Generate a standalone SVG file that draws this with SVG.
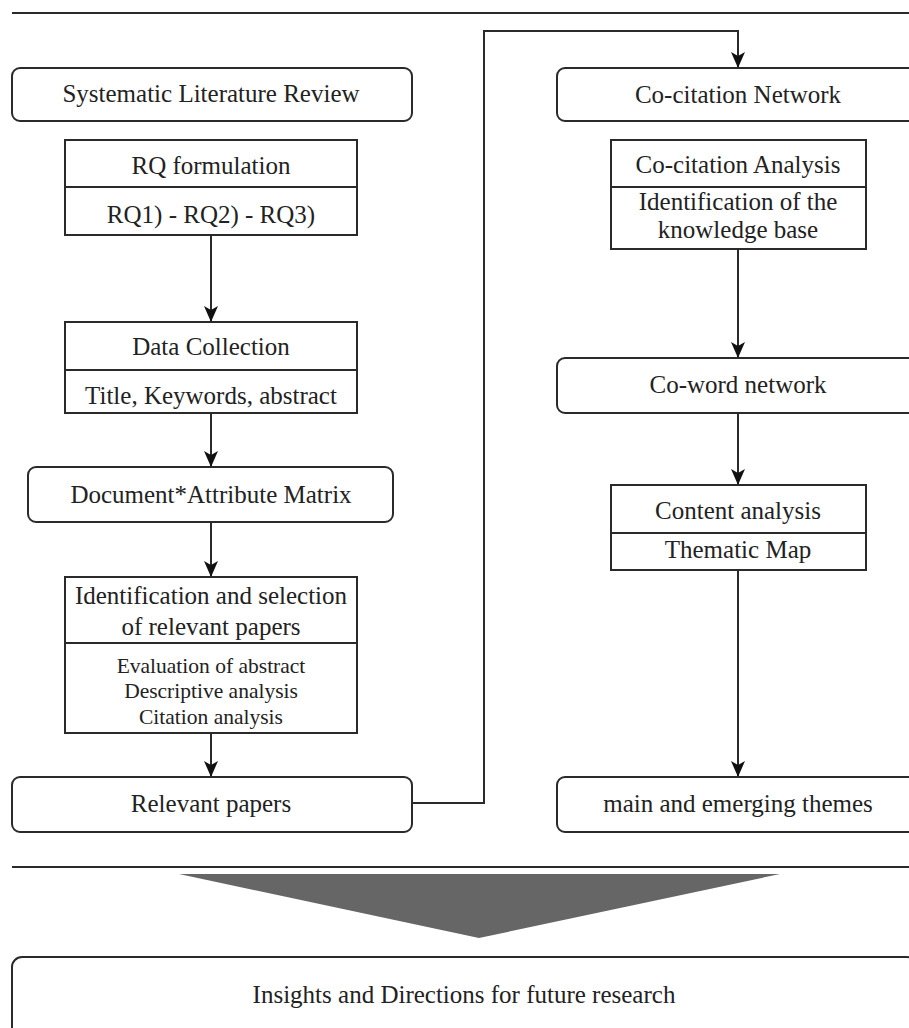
<svg xmlns="http://www.w3.org/2000/svg" width="909" height="1028" viewBox="0 0 909 1028">
<style>
.box{fill:#fff;stroke:#2a2a2a;stroke-width:2}
.ln{fill:none;stroke:#2a2a2a;stroke-width:2}
.t{font-family:"Liberation Serif","Times New Roman",serif;font-size:25px;fill:#222;text-anchor:middle}
.s{font-family:"Liberation Serif","Times New Roman",serif;font-size:21.5px;fill:#222;text-anchor:middle}
</style>
<defs>
<marker id="arr" viewBox="0 0 16 14" refX="16" refY="7" markerWidth="16" markerHeight="14" markerUnits="userSpaceOnUse" orient="auto">
<path d="M0,0 L16,7 L0,14 L4,7 Z" fill="#111"/>
</marker>
</defs>
<rect width="909" height="1028" fill="#fff"/>
<g id="rules">
<line class="ln" x1="12" y1="13" x2="909" y2="13"/>
<line class="ln" x1="12" y1="867" x2="909" y2="867"/>
<polygon points="179,874 780,874 479,938" fill="#666"/>
</g>
<g id="connectors">
<line class="ln" x1="211" y1="235" x2="211" y2="322" marker-end="url(#arr)"/>
<line class="ln" x1="211" y1="413" x2="211" y2="467" marker-end="url(#arr)"/>
<line class="ln" x1="211" y1="522" x2="211" y2="577" marker-end="url(#arr)"/>
<line class="ln" x1="211" y1="733" x2="211" y2="777" marker-end="url(#arr)"/>
<polyline class="ln" points="412,803 484,803 484,31 738,31 738,68" marker-end="url(#arr)"/>
<line class="ln" x1="738" y1="249" x2="738" y2="358" marker-end="url(#arr)"/>
<line class="ln" x1="738" y1="413" x2="738" y2="485" marker-end="url(#arr)"/>
<line class="ln" x1="738" y1="570" x2="738" y2="777" marker-end="url(#arr)"/>
</g>
<g id="slr">
<rect class="box" x="12" y="68" width="400" height="53" rx="8"/>
<text class="t" x="211" y="102">Systematic Literature Review</text>
</g>
<g id="rq">
<rect class="box" x="65" y="140" width="292" height="95"/>
<line class="ln" x1="65" y1="187" x2="357" y2="187"/>
<text class="t" x="211" y="174">RQ formulation</text>
<text class="t" x="211" y="223">RQ1) - RQ2) - RQ3)</text>
</g>
<g id="data">
<rect class="box" x="65" y="322" width="292" height="91"/>
<line class="ln" x1="65" y1="370" x2="357" y2="370"/>
<text class="t" x="211" y="355">Data Collection</text>
<text class="t" x="211" y="404">Title, Keywords, abstract</text>
</g>
<g id="matrix">
<rect class="box" x="28" y="467" width="365" height="55" rx="8"/>
<text class="t" x="211" y="503">Document*Attribute Matrix</text>
</g>
<g id="ident">
<rect class="box" x="65" y="577" width="292" height="156"/>
<line class="ln" x1="65" y1="643" x2="357" y2="643"/>
<text class="t" x="211" y="604">Identification and selection</text>
<text class="t" x="211" y="635">of relevant papers</text>
<text class="s" x="211" y="673">Evaluation of abstract</text>
<text class="s" x="211" y="698">Descriptive analysis</text>
<text class="s" x="211" y="724">Citation analysis</text>
</g>
<g id="relevant">
<rect class="box" x="12" y="777" width="400" height="55" rx="8"/>
<text class="t" x="211" y="812">Relevant papers</text>
</g>
<g id="cocit-net">
<rect class="box" x="557" y="68" width="362" height="53" rx="8"/>
<text class="t" x="738" y="103">Co-citation Network</text>
</g>
<g id="cocit-an">
<rect class="box" x="611" y="140" width="255" height="109"/>
<line class="ln" x1="611" y1="187" x2="866" y2="187"/>
<text class="t" x="738" y="173">Co-citation Analysis</text>
<text class="t" x="738" y="210">Identification of the</text>
<text class="t" x="738" y="238">knowledge base</text>
</g>
<g id="coword">
<rect class="box" x="557" y="358" width="362" height="55" rx="8"/>
<text class="t" x="738" y="393">Co-word network</text>
</g>
<g id="content">
<rect class="box" x="611" y="485" width="255" height="85"/>
<line class="ln" x1="611" y1="533" x2="866" y2="533"/>
<text class="t" x="738" y="519">Content analysis</text>
<text class="t" x="738" y="558">Thematic Map</text>
</g>
<g id="themes">
<rect class="box" x="557" y="777" width="362" height="55" rx="8"/>
<text class="t" x="738" y="812">main and emerging themes</text>
</g>
<g id="insights">
<rect class="box" x="12" y="957" width="905" height="90" rx="10"/>
<text class="t" x="464" y="1003">Insights and Directions for future research</text>
</g>
</svg>
